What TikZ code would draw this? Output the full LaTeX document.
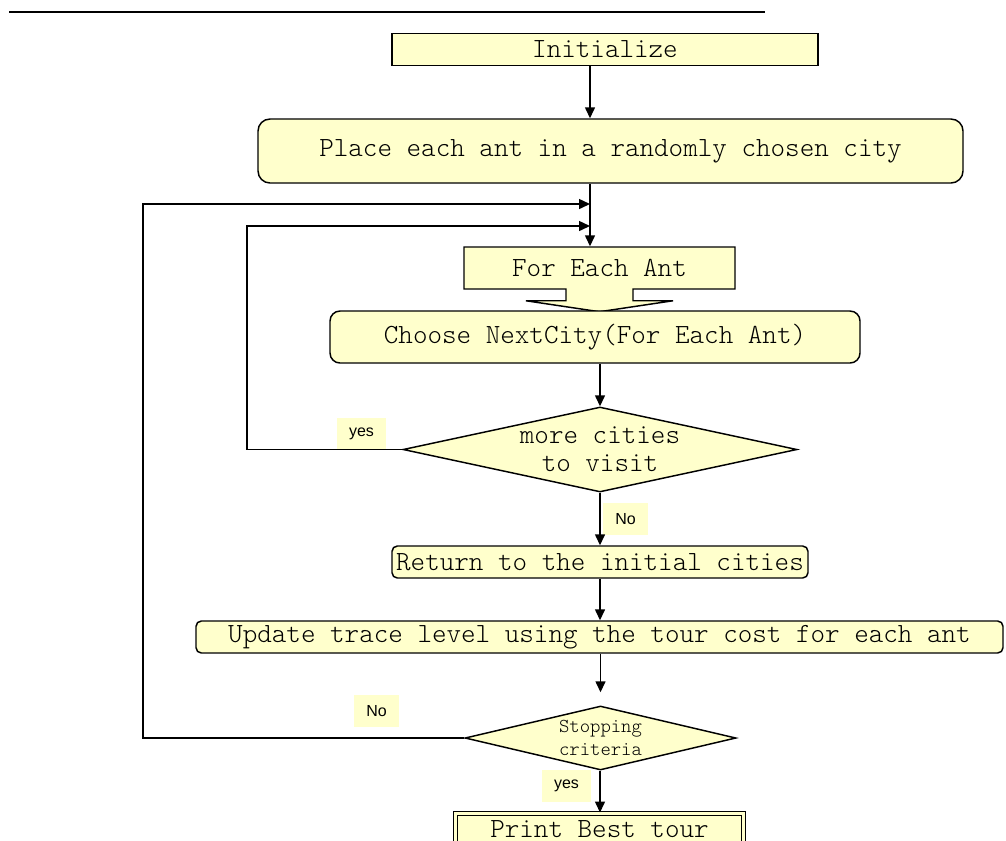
\documentclass[tikz,border=0pt]{standalone}
\usepackage{fontspec}
\setsansfont{Liberation Sans}
\setmonofont{Latin Modern Mono Light}
\usetikzlibrary{arrows.meta,shapes.geometric,shapes.arrows}
\definecolor{paleyellow}{HTML}{FFFFCC}
\tikzset{
    every picture/.style={
        x=0.75pt,y=-0.75pt,line width=1.1pt,
        >={Triangle[length=8.25pt,width=7.5pt]}
    },
    box/.style={draw,fill=paleyellow,inner sep=0pt,
        font=\ttfamily\fontsize{20.8}{21}\selectfont},
    roundbox/.style={box,rounded corners=7.5pt},
    decision/.style={diamond,draw,fill=paleyellow,inner sep=0pt},
    tag/.style={fill=paleyellow,inner sep=0pt,minimum height=24pt,
        font=\sffamily\fontsize{12}{13}\selectfont}
}

\begin{document}
\begin{tikzpicture}
    \clip (0,0) rectangle (1006,840);
    \coordinate (ruleL) at (9,12);
    \coordinate (ruleR) at (765,12);
    \coordinate (colA)  at (590,0);
    \coordinate (colB)  at (600,0);
    \coordinate (loopA) at (247,226);
    \coordinate (loopB) at (143,204);
    \draw (ruleL) -- (ruleR);

    \node[box,minimum width=319.5pt,minimum height=24pt]                 (init)   at (605,49.5)  {Initialize};
    \node[roundbox,rounded corners=9pt,minimum width=528.75pt,minimum height=48pt] (place) at (610.5,151) {Place each ant in a randomly chosen city};
    \node[box,arrow box,arrow box arrows={south:16.5pt},arrow box shaft width=50.25pt,
          arrow box head extend=30pt,arrow box tip angle=163,
          minimum width=203.25pt,minimum height=31.5pt]                   (each)   at (599.5,268) {For Each Ant};
    \node[roundbox,minimum width=397.5pt,minimum height=39pt]            (choose) at (595,337)    {Choose NextCity(For Each Ant)};
    \node[decision,minimum width=295.5pt,minimum height=63.75pt]          (more)   at (600,449.5) {};
    \node[align=center,inner sep=0pt,font=\ttfamily\fontsize{20.8}{21}\selectfont] (moretxt) at (more.center) {more cities\\ to visit};
    \node[tag,minimum width=36.75pt]                                      (yesA)   at (361.5,434) {yes};
    \node[tag,minimum width=33.75pt]                                      (noA)    at (625.5,519) {No};
    \node[roundbox,rounded corners=4pt,minimum width=312pt,minimum height=24pt]    (ret)    at (600,562)   {Return to the initial cities};
    \node[roundbox,rounded corners=4pt,minimum width=605.25pt,minimum height=24pt] (upd)    at (599.5,637) {Update trace level using the tour cost for each ant};
    \node[decision,minimum width=203.25pt,minimum height=48pt]            (stop)   at (600.5,738) {};
    \node[align=center,inner sep=0pt,font=\ttfamily\fontsize{14.8}{17.25}\selectfont] (stoptxt) at (stop.center) {Stopping\\criteria};
    \node[tag,minimum width=33.75pt]                                      (noB)    at (376.5,711) {No};
    \node[tag,minimum width=36.75pt]                                      (yesB)   at (566.5,786) {yes};
    \node[box,line width=0.75pt,double=paleyellow,double distance=2.25pt,text depth=0pt,
          minimum width=216pt,minimum height=24pt]                        (print)  at (599.5,829) {Print Best tour};

    \draw[->] (init.south -| colA)  -- (place.north -| colA);
    \draw[->] (place.south -| colA) -- (each.north -| colA);
    \draw[->] (choose.south -| colB) -- (more.north);
    \draw[->] (more.south)          -- (ret.north);
    \draw[->] (ret.south)           -- (upd.north -| ret.south);
    \draw[->,shorten >=9.75pt] (upd.south -| stop.north) -- (stop.north);
    \draw[->] (stop.south -| colB)  -- (print.north -| colB);
    \draw[->] (more.west) -| (loopA) -- (loopA -| colA);
    \draw[->] (stop.west) -| (loopB) -- (loopB -| colA);
\end{tikzpicture}
\end{document}
